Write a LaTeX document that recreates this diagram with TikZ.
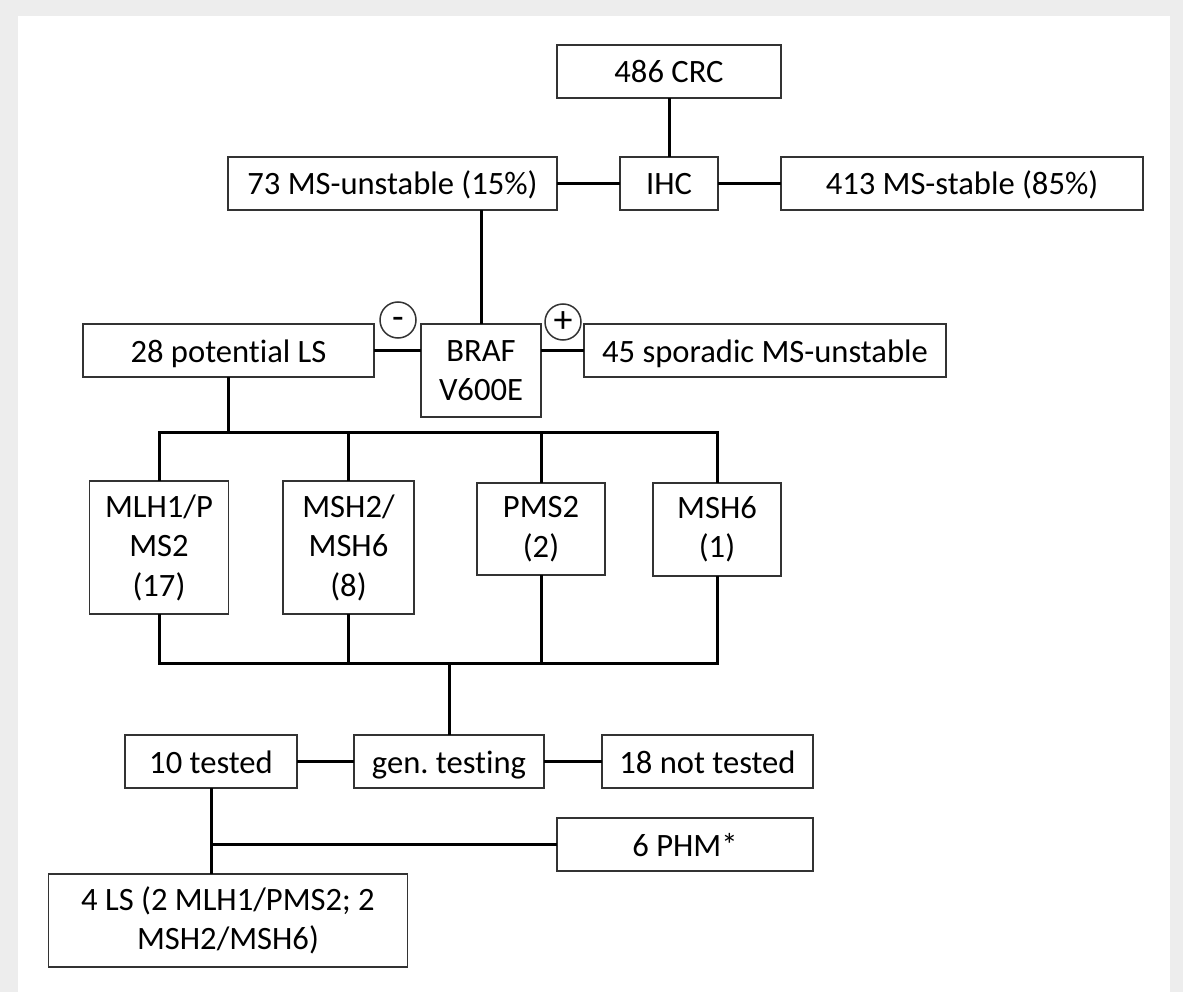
\documentclass[tikz,border=0pt]{standalone}
\usepackage{fontspec}
\setmainfont{Carlito}[Ligatures=NoCommon]
\frenchspacing
\begin{document}
\begin{tikzpicture}[x=1pt, y=-1pt,
  box/.style={draw=black!80, line width=1.5pt, fill=white, inner sep=0pt, outer sep=0pt, text height=28pt, text depth=5pt, font=\fontsize{32.6pt}{39.5pt}\selectfont},
  tallBox/.style={draw=black!80, line width=1.5pt, fill=white, inner sep=0pt, outer sep=0pt, align=center, font=\fontsize{32.6pt}{39.5pt}\selectfont},
  sign/.style={draw=black!80, line width=1.5pt, circle, minimum size=36pt, inner sep=0pt, text height=22pt, text depth=2pt, font=\fontsize{38pt}{38pt}\selectfont},
  link/.style={line width=3pt, black}]
\fill[black!7] (0,0) rectangle (1183,992);
\fill[white] (18,16) rectangle (1170,992);
\useasboundingbox (0,0) rectangle (1183,992);
\coordinate (topBus) at (0,432);
\coordinate (lowBus) at (0,663);
\node [box, minimum width=224pt, minimum height=53pt] (crc) at (669,71.5) {486 CRC};
\node [box, minimum width=98pt, minimum height=53pt] (ihc) at (669,183.5) {IHC};
\node [box, minimum width=329pt, minimum height=53pt] (unstable) at (392.5,183.5) {73 MS-unstable (15\%)};
\node [box, minimum width=362pt, minimum height=53pt] (stable) at (962,183.5) {413 MS-stable (85\%)};
\node [box, minimum width=291pt, minimum height=53pt] (potLS) at (228.5,350.5) {28 potential LS};
\node [tallBox, minimum width=120pt, minimum height=93pt] (braf) at (481,370.5) {BRAF\\V600E};
\node [box, minimum width=362pt, minimum height=53pt] (sporadic) at (765,350.5) {45 sporadic MS-unstable};
\node [sign] (minus) at (398,320) {-};
\node [sign] (plus) at (563,322) {+};
\node [tallBox, minimum width=139pt, minimum height=133pt] (mlh) at (159,547.5) {MLH1/P\\MS2\\(17)};
\node [tallBox, minimum width=131pt, minimum height=133pt] (msh) at (348.5,547.5) {MSH2/\\MSH6\\(8)};
\node [tallBox, minimum width=128pt, minimum height=92pt] (pms) at (541,529) {PMS2\\(2)};
\node [tallBox, minimum width=128pt, minimum height=93pt] (mshSix) at (717,529.5) {MSH6\\(1)};
\node [box, minimum width=172pt, minimum height=53pt] (tested) at (211,761.5) {10 tested};
\node [box, minimum width=190pt, minimum height=53pt] (genTest) at (449,761.5) {gen. testing};
\node [box, minimum width=211pt, minimum height=53pt] (notTested) at (707.5,761.5) {18 not tested};
\node [box, minimum width=256pt, minimum height=53pt] (phm) at (685,844.5) {6 PHM*};
\node [tallBox, minimum width=359pt, minimum height=93pt] (ls) at (228,920.5) {4 LS (2 MLH1/PMS2; 2\\MSH2/MSH6)};
\draw [link] (crc) -- (ihc);
\draw [link] (unstable) -- (ihc);
\draw [link] (ihc) -- (stable);
\draw [link] (braf.north) -- (braf.north |- unstable.south);
\draw [link] (potLS.east) -- (potLS.east -| braf.west);
\draw [link] (sporadic.west -| braf.east) -- (sporadic.west);
\draw [link] (potLS.south) -- (potLS.south |- topBus);
\draw [link] (mlh.north) |- (mshSix.north |- topBus) -- (mshSix.north);
\draw [link] (msh.north) -- (msh.north |- topBus);
\draw [link] (pms.north) -- (pms.north |- topBus);
\draw [link] (mlh.south) |- (mshSix.south |- lowBus) -- (mshSix.south);
\draw [link] (msh.south) -- (msh.south |- lowBus);
\draw [link] (pms.south) -- (pms.south |- lowBus);
\draw [link] (genTest.north) -- (genTest.north |- lowBus);
\draw [link] (tested) -- (genTest);
\draw [link] (genTest) -- (notTested);
\draw [link] (tested.south) -- (tested.south |- ls.north);
\draw [link] (tested.south |- phm.west) -- (phm.west);
\end{tikzpicture}
\end{document}
